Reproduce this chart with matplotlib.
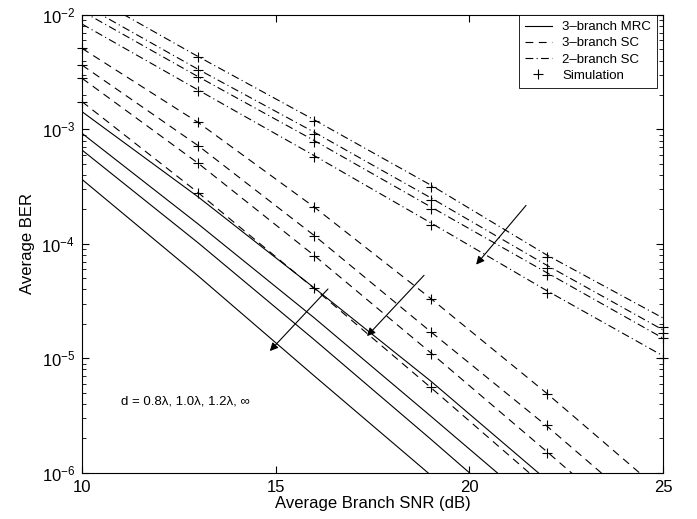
import numpy as np
import matplotlib.pyplot as plt
from matplotlib.lines import Line2D

plt.rcParams['font.family'] = ['Liberation Sans', 'DejaVu Sans']
plt.rcParams['mathtext.fontset'] = 'custom'
plt.rcParams['mathtext.rm'] = 'Liberation Sans'
plt.rcParams['mathtext.it'] = 'Liberation Sans:italic'

# --- data ---
snr = [10, 13, 16, 19, 22, 25]
mrc_snr = [10, 13, 16, 19, 22]

# 3-branch MRC, d = 0.8, 1.0, 1.2 lambda, inf
mrc3_ber = [
    [1.43e-3, 2.57e-4, 4.11e-5, 6.34e-6, 8.63e-7],
    [9.25e-4, 1.49e-4, 2.25e-5, 3.13e-6, 4.27e-7],
    [6.61e-4, 1.02e-4, 1.45e-5, 1.97e-6, 2.58e-7],
    [3.66e-4, 5.24e-5, 7.00e-6, 9.55e-7, 1.28e-7],
]
# 3-branch SC
sc3_ber = [
    [5.11e-3, 1.15e-3, 2.09e-4, 3.34e-5, 4.94e-6, 6.65e-7],
    [3.65e-3, 7.21e-4, 1.18e-4, 1.71e-5, 2.56e-6, 3.42e-7],
    [2.80e-3, 5.06e-4, 7.89e-5, 1.12e-5, 1.53e-6, 2.03e-7],
    [1.75e-3, 2.80e-4, 4.06e-5, 5.57e-6, 7.34e-7, 9.40e-8],
]
# 2-branch SC
sc2_ber = [
    [1.62e-2, 4.33e-3, 1.21e-3, 3.27e-4, 7.99e-5, 2.25e-5],
    [1.25e-2, 3.35e-3, 9.44e-4, 2.53e-4, 6.50e-5, 1.77e-5],
    [1.08e-2, 2.89e-3, 7.98e-4, 2.11e-4, 5.60e-5, 1.50e-5],
    [8.34e-3, 2.21e-3, 5.89e-4, 1.53e-4, 3.90e-5, 1.05e-5],
]

# simulation points
sim_sc3_snr = [10, 13, 16, 19, 22]
sim_sc3_ber = [
    [5.1e-3, 1.15e-3, 2.1e-4, 3.3e-5, 4.9e-6],
    [3.65e-3, 7.2e-4, 1.18e-4, 1.7e-5, 2.6e-6],
    [2.8e-3, 5.1e-4, 7.9e-5, 1.1e-5, 1.5e-6],
    [1.75e-3, 2.8e-4, 4.1e-5, 5.6e-6, np.nan],
]
sim_sc2_snr = [13, 16, 19, 22, 25]
sim_sc2_ber = [
    [4.3e-3, 1.18e-3, 3.15e-4, 7.6e-5, 1.89e-5],
    [3.3e-3, 9.2e-4, 2.44e-4, 6.2e-5, 1.67e-5],
    [2.85e-3, 7.8e-4, 2.03e-4, 5.3e-5, 1.49e-5],
    [2.18e-3, 5.7e-4, 1.47e-4, 3.7e-5, 1.0e-5],
]

fig = plt.figure(figsize=(6.97, 5.19), dpi=100)
ax = fig.add_axes([0.1176, 0.0892, 0.8336, 0.8819])

lw = 0.8
dashed = (0, (7, 5))
dashdot = (0, (7, 3, 1, 3))
for b in mrc3_ber:
    ax.semilogy(mrc_snr, b, color='k', lw=lw, ls='-')
for b in sc3_ber:
    ax.semilogy(snr, b, color='k', lw=lw, ls=dashed)
for b in sc2_ber:
    ax.semilogy(snr, b, color='k', lw=lw, ls=dashdot)
for b in sim_sc3_ber:
    ax.semilogy(sim_sc3_snr, b, 'k+', ms=7, mew=0.8, clip_on=False)
for b in sim_sc2_ber:
    ax.semilogy(sim_sc2_snr, b, 'k+', ms=7, mew=0.8, clip_on=False)

ax.set_xlim(10, 25)
ax.set_ylim(1e-6, 1e-2)
ax.set_xticks([10, 15, 20, 25])
ax.tick_params(which='both', direction='in', top=True, right=True, labelsize=12)
ax.tick_params(which='major', length=5)
ax.tick_params(which='minor', length=3)
ax.tick_params(axis='x', pad=5)
ax.tick_params(axis='y', pad=5)
ax.set_xlabel('Average Branch SNR (dB)', fontsize=12, labelpad=1)
ax.set_ylabel('Average BER', fontsize=12, labelpad=5)

arrow = dict(arrowstyle='-|>', color='k', lw=0.8, mutation_scale=12)
ax.annotate('', xy=(14.80, 1.11e-5), xytext=(16.40, 4.2e-5), arrowprops=arrow)
ax.annotate('', xy=(17.31, 1.50e-5), xytext=(18.88, 5.53e-5), arrowprops=arrow)
ax.annotate('', xy=(20.13, 6.31e-5), xytext=(21.51, 2.26e-4), arrowprops=arrow)

ax.text(11.02, 4.18e-6, 'd = 0.8λ, 1.0λ, 1.2λ, ∞', fontsize=9.5, va='center', ha='left')

handles = [
    Line2D([], [], color='k', lw=lw, ls='-'),
    Line2D([], [], color='k', lw=lw, ls=dashed),
    Line2D([], [], color='k', lw=lw, ls=dashdot),
    Line2D([], [], color='k', ls='none', marker='+', ms=7, mew=0.8),
]
labels = ['3\u2013branch MRC', '3\u2013branch SC', '2\u2013branch SC', 'Simulation']
leg = ax.legend(handles, labels, loc='upper right', bbox_to_anchor=(0.9897, 1.0),
                borderaxespad=0, fontsize=9.5, frameon=True, fancybox=False,
                edgecolor='k', framealpha=1, handlelength=2.0, handletextpad=0.8,
                borderpad=0.45, labelspacing=0.3)
leg.get_frame().set_linewidth(0.6)

fig.savefig('out.png', dpi=100)
